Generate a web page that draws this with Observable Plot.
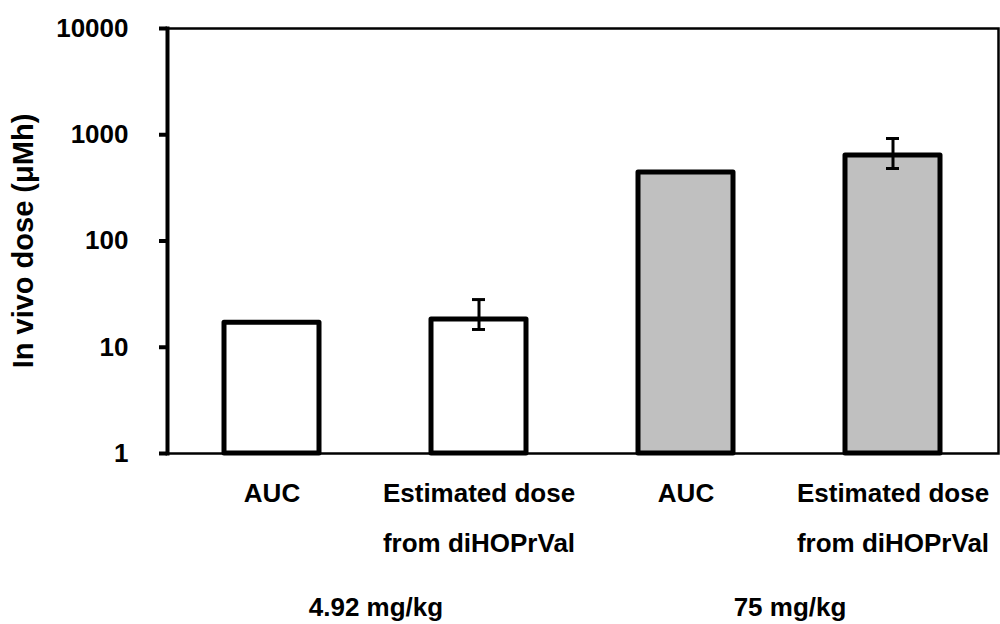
<!DOCTYPE html>
<html>
<head>
<meta charset="utf-8">
<script src="https://cdn.jsdelivr.net/npm/d3@7"></script>
<script src="https://cdn.jsdelivr.net/npm/@observablehq/plot@0.6"></script>
<style>
  html, body { margin: 0; padding: 0; background: #fff; }
  #chart { width: 1000px; height: 624px; }
</style>
</head>
<body>
<div id="chart"></div>
<script>
// ---- data ----
const categories = ["AUC-4.92", "EST-4.92", "AUC-75", "EST-75"];
const tickLabels = ["AUC", "Estimated dose\nfrom diHOPrVal", "AUC", "Estimated dose\nfrom diHOPrVal"];
const groupOf = ["4.92 mg/kg", "4.92 mg/kg", "75 mg/kg", "75 mg/kg"];
const groupLabels = ["4.92 mg/kg", "75 mg/kg"];
const groupFirst = ["AUC-4.92", "AUC-75"];
const values = [17, 18.2, 441, 638];
const errLow = [null, 14.7, null, 481];
const errHigh = [null, 28.1, null, 922];
const yTicks = [1, 10, 100, 1000, 10000];
const yLabel = "In vivo dose (\u03bcMh)";

const data = categories.map((k, i) => ({
  key: k, group: groupOf[i], value: values[i], lo: errLow[i], hi: errHigh[i]
}));
const errData = data.filter(d => d.lo != null);
const labelOf = new Map(categories.map((k, i) => [k, tickLabels[i]]));
const groupData = groupLabels.map((g, i) => ({ label: g, first: groupFirst[i] }));

const font = "'Liberation Sans', Arial, Helvetica, sans-serif";

const chart = Plot.plot({
  width: 1000,
  height: 624,
  marginLeft: 167,
  marginRight: 2,
  marginTop: 28,
  marginBottom: 171,
  style: { fontFamily: font, fontSize: "26px", fontWeight: "bold", color: "black", background: "white" },
  x: { type: "band", domain: categories, paddingInner: 0.54, paddingOuter: 0.27 },
  y: { type: "log", domain: [1, 10000] },
  color: { domain: groupLabels, range: ["white", "#c0c0c0"] },
  marks: [
    Plot.barY(data, {
      x: "key", y1: 1, y2: "value", fill: "group",
      stroke: "black", strokeWidth: 5, strokeLinejoin: "round"
    }),
    Plot.ruleX(errData, { x: "key", y1: "lo", y2: "hi", stroke: "black", strokeWidth: 3 }),
    Plot.tickY(errData, { x: "key", y: "lo", stroke: "black", strokeWidth: 3, insetLeft: 41, insetRight: 41 }),
    Plot.tickY(errData, { x: "key", y: "hi", stroke: "black", strokeWidth: 3, insetLeft: 41, insetRight: 41 }),
    Plot.frame({ stroke: "black", strokeWidth: 2.5 }),
    Plot.frame({ anchor: "left", stroke: "black", strokeWidth: 4 }),
    Plot.axisY({
      ticks: yTicks, tickFormat: d => String(d), tickSize: 8, tickPadding: 31,
      strokeWidth: 4, label: null, fontSize: 26, fontWeight: "bold"
    }),
    Plot.axisX({
      tickFormat: k => labelOf.get(k), tickSize: 0, tickPadding: 13,
      lineAnchor: "top", lineHeight: 1.92, label: null, fontSize: 26, fontWeight: "bold"
    }),
    Plot.text(groupData, {
      x: "first", frameAnchor: "bottom", lineAnchor: "top", dy: 144, dx: 104,
      text: "label", fontSize: 26, fontWeight: "bold", fill: "black"
    }),
    Plot.text([yLabel], {
      frameAnchor: "left", rotate: -90, dx: -144, textAnchor: "middle", text: d => d,
      fontSize: 29, fontWeight: "bold", fill: "black"
    })
  ]
});
document.getElementById("chart").appendChild(chart);
</script>
</body>
</html>
